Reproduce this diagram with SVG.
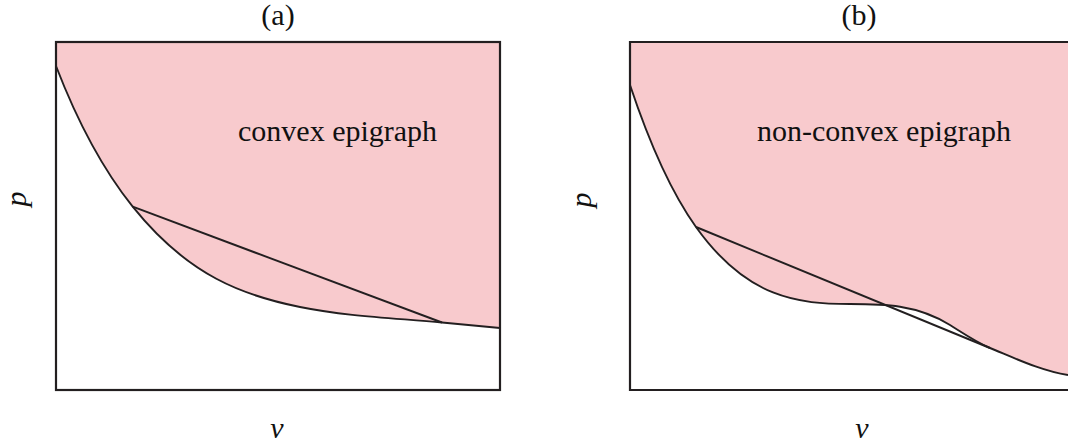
<svg xmlns="http://www.w3.org/2000/svg" width="1068" height="444" viewBox="0 0 1068 444">
<style>
.fill{fill:#F8CACD;stroke:none}
.box{fill:none;stroke:#231F20;stroke-width:2.2}
.crv{fill:none;stroke:#231F20;stroke-width:1.9;stroke-linejoin:round}
text{font-family:"Liberation Serif","Times New Roman",Times,Tinos,"Nimbus Roman","Nimbus Roman No9 L","TeX Gyre Termes","Noto Serif","DejaVu Serif",FreeSerif,serif;font-size:30px;fill:#111}
.m{font-style:italic}
</style>
<rect width="1068" height="444" fill="#fff"/>
<g id="panel-a">
<path class="fill" d="M56,42 L56,66 C81.6,132.5 107.1,174.7 132.7,206.7 C188.5,276.4 244.2,295.8 300,307 C347.3,316.5 394.7,318.1 442,322.5 L500,328 L500,42 Z"/>
<rect class="box" x="56" y="42" width="444" height="348"/>
<path class="crv" d="M56,66 C81.6,132.5 107.1,174.7 132.7,206.7 C188.5,276.4 244.2,295.8 300,307 C347.3,316.5 394.7,318.1 442,322.5 L500,328"/>
<text x="278" y="25" text-anchor="middle">(a)</text>
<text x="238" y="141">convex epigraph</text>
<text class="m" transform="translate(25.5,199) rotate(-90)" text-anchor="middle">p</text>
<text class="m" x="277" y="438" text-anchor="middle">v</text>
</g>
<g id="panel-b">
<path class="fill" d="M630,42 L630,85 C652,151 674,196.2 696,227 C747.3,298.9 798.7,304 850,304 C883.3,304 916.7,304.3 950,325 C963.3,333.3 976.7,342.5 990,348 C1016,358.7 1042,371.1 1068,375 L1068,42 Z"/>
<path class="box" d="M1090,42 L630,42 L630,390 L1090,390"/>
<path class="crv" d="M630,85 C652,151 674,196.2 696,227 C747.3,298.9 798.7,304 850,304 C883.3,304 916.7,304.3 950,325 C963.3,333.3 976.7,342.5 990,348 C1016,358.7 1042,371.1 1068,375"/>
<text x="859" y="25" text-anchor="middle">(b)</text>
<text x="757" y="141">non-convex epigraph</text>
<text class="m" transform="translate(590.5,200) rotate(-90)" text-anchor="middle">p</text>
<text class="m" x="862" y="438" text-anchor="middle">v</text>
</g>
<g id="connectors">
<line class="crv" x1="132.7" y1="206.7" x2="442" y2="322.5"/>
<line class="crv" x1="696" y1="227" x2="990" y2="348"/>
</g>
</svg>
